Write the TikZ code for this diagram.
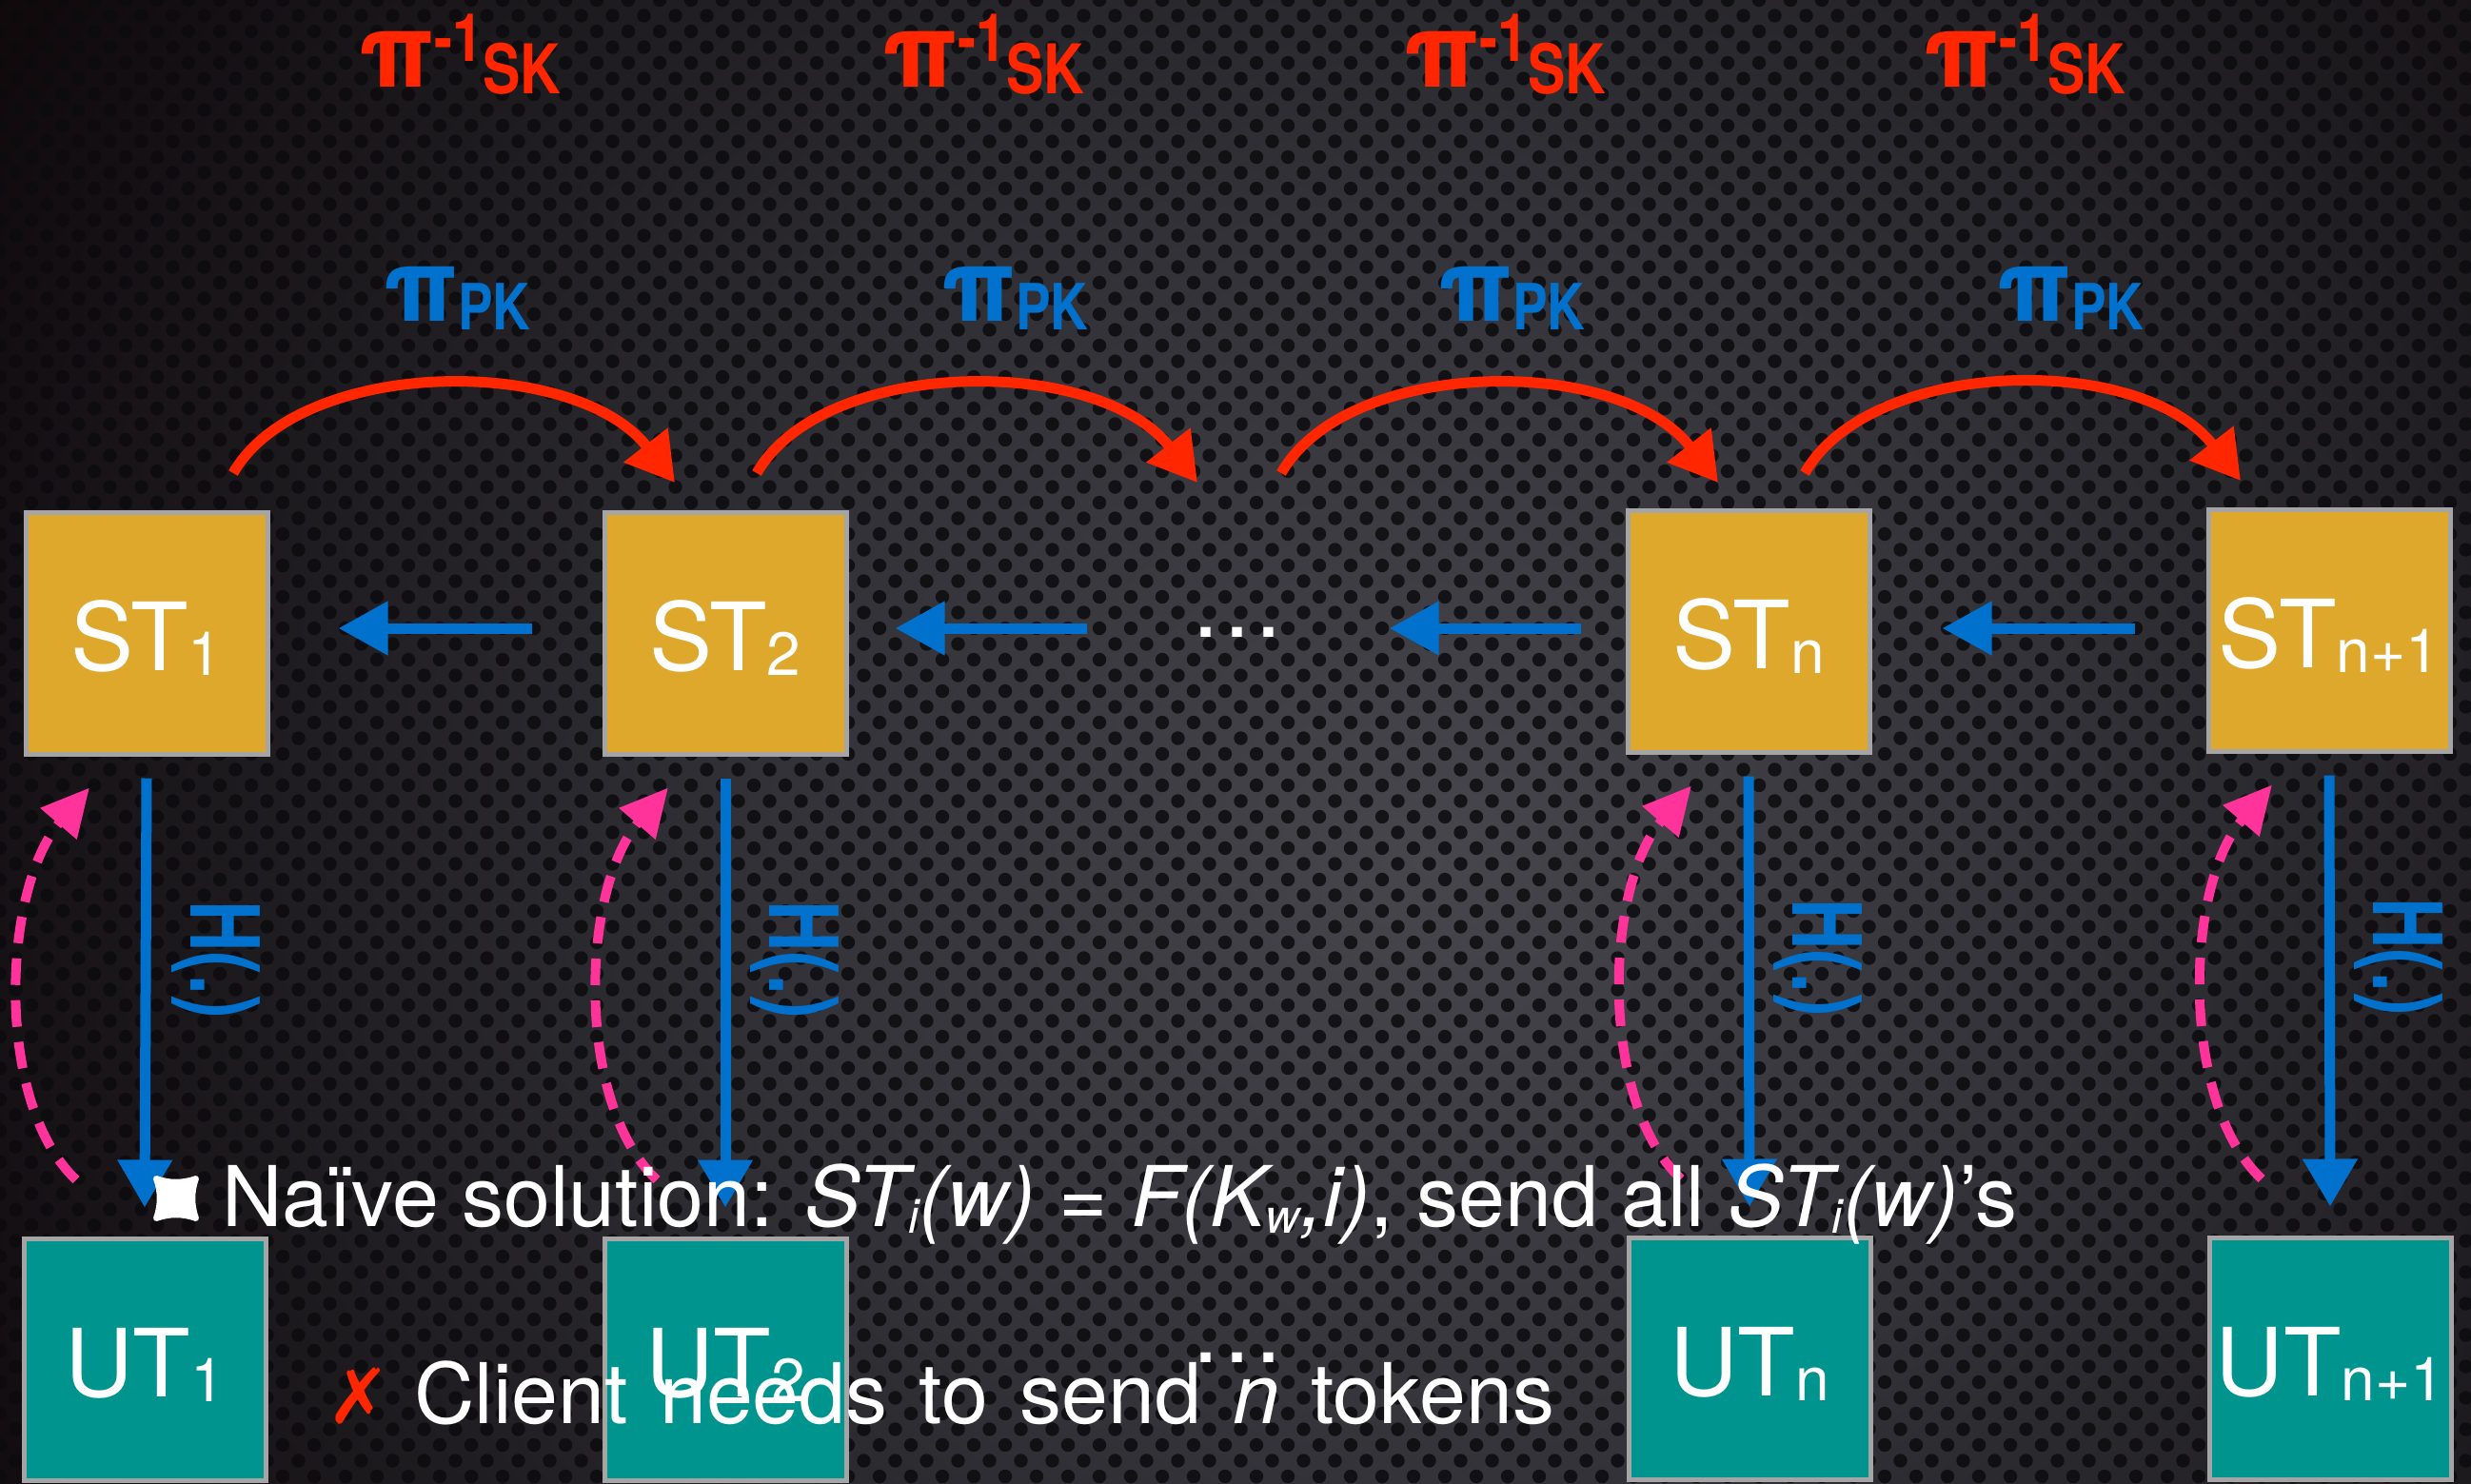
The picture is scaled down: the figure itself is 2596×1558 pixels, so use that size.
\documentclass[tikz,border=0pt]{standalone}
\usepackage{fontspec}
\setmainfont{TeX Gyre Heros}
\newfontfamily\tagfont{TeX Gyre Heros}[FakeStretch=0.74]
\newfontfamily\permfont{TeX Gyre Heros}[FakeStretch=0.82]
\newfontfamily\symfont{DejaVu Sans}
\usetikzlibrary{arrows.meta,calc}

\definecolor{bgdark}{RGB}{16,10,13}
\definecolor{bgouter}{RGB}{28,25,29}
\definecolor{bgmid}{RGB}{50,50,56}
\definecolor{bglight}{RGB}{70,70,76}
\definecolor{holec}{RGB}{12,11,14}
\definecolor{stgold}{RGB}{222,168,45}
\definecolor{utteal}{RGB}{0,148,143}
\definecolor{boxgrey}{RGB}{165,165,165}
\definecolor{hblue}{RGB}{0,114,206}
\definecolor{pred}{RGB}{255,38,0}
\definecolor{lpink}{RGB}{255,51,153}

% the path's radius corresponds to 25bp of the shading
\pgfdeclareradialshading{backglow}{\pgfpoint{0bp}{0bp}}{%
  color(0bp)=(bglight); color(10bp)=(bgmid); color(19bp)=(bgouter); color(25bp)=(bgdark); color(50bp)=(bgdark)}

% lowered, smaller index inside the token boxes and in the running text
\newcommand\boxsub[1]{\raisebox{-5pt}{\fontsize{64}{64}\selectfont #1}}
\newcommand\txtsub[1]{\raisebox{-7pt}{\fontsize{50}{50}\selectfont #1}}
% permutation labels
\newcommand\pisk{{\bfseries\fontsize{108}{108}\selectfont π}{\permfont\bfseries\raisebox{27pt}{\fontsize{70}{70}\selectfont -1}\raisebox{-7pt}{\fontsize{72}{72}\selectfont SK}}}
\newcommand\pipk{{\bfseries\fontsize{106}{106}\selectfont π}{\permfont\bfseries\raisebox{-9pt}{\fontsize{67}{67}\selectfont PK}}}

\tikzset{
  tokbox/.style={draw=boxgrey, line width=5pt, minimum width=254pt, minimum height=254pt,
    inner sep=0pt, text=white, text height=78pt, text depth=0pt,
    font=\fontsize{99}{99}\selectfont},
  stbox/.style={tokbox, fill=stgold},
  utbox/.style={tokbox, fill=utteal},
  backarr/.style={draw=hblue, line width=11pt, -{Triangle[length=52pt,width=54pt]}},
  hasharr/.style={draw=hblue, line width=11pt, -{Triangle[length=50pt,width=55pt]}},
  permarr/.style={draw=pred, line width=11pt, -{Triangle[length=50pt,width=56pt]}},
  looparr/.style={draw=lpink, line width=10pt, dash pattern=on 28pt off 16pt,
    -{Triangle[length=50pt,width=48pt]}},
  hlabel/.style={rotate=-90, inner sep=0pt, text=hblue,
    font=\tagfont\bfseries\fontsize{100}{100}\selectfont},
  sklabel/.style={anchor=base, inner sep=0pt, text=pred},
  pklabel/.style={anchor=base, inner sep=0pt, text=hblue},
  dotsnode/.style={anchor=base, inner sep=0pt, text=white, font=\fontsize{99}{99}\selectfont},
  bullettext/.style={anchor=base west, inner sep=0pt, text=white, font=\fontsize{88}{88}\selectfont}
}

\begin{document}
\begin{tikzpicture}[x=1pt,y=-1pt]
\useasboundingbox (0,0) rectangle (2596,1558);

% perforated dark backdrop, lit from the middle
\fill[bgdark] (0,0) rectangle (2596,1558);
\begin{scope}
  \clip (0,0) rectangle (2596,1558);
  \shade[shading=backglow] (1500,900) circle (1700);
  \foreach \r in {0,...,95}{
    \pgfmathsetmacro\rowx{mod(\r,2)*16.5}
    \fill[holec, opacity=0.85]
      \foreach \c in {0,...,79}{
        ({\c*33+\rowx},{\r*16.5}) circle (7.2)
      };
  }
\end{scope}

% search tokens
\node[stbox] (st1)  at (154,665)  {ST\boxsub{1}};
\node[stbox] (st2)  at (762,665)  {ST\boxsub{2}};
\node[stbox] (stn)  at (1837,663) {ST\boxsub{n}};
\node[stbox] (stn1) at (2447,662) {ST\boxsub{n+1}};
\node[dotsnode] (dots1) at (1300,669) {…};

% update tokens
\node[utbox] (ut1)  at (152,1428)  {UT\boxsub{1}};
\node[utbox] (ut2)  at (762,1428)  {UT\boxsub{2}};
\node[utbox] (utn)  at (1838,1427) {UT\boxsub{n}};
\node[utbox] (utn1) at (2448,1427) {UT\boxsub{n+1}};
\node[dotsnode] (dots2) at (1300,1431) {…};

% backward chain with the public key
\draw[backarr] ($(st2.west)+(-74,-5)$) -- ($(st1.east)+(72,-5)$);
\draw[backarr] ($(dots1.west |- st2.east)+(-108,-5)$) -- ($(st2.east)+(49,-5)$);
\draw[backarr] ($(stn.west)+(-47,-3)$) -- ($(dots1.east |- stn.west)+(110,-3)$);
\draw[backarr] ($(stn1.west)+(-75,-2)$) -- ($(stn.east)+(74,-3)$);

% forward chain with the secret key
\coordinate (r1a) at (245,497);  \coordinate (r1b) at (709,507);
\coordinate (r2a) at (795,497);  \coordinate (r2b) at (1258,507);
\coordinate (r3a) at (1346,497); \coordinate (r3b) at (1805,507);
\coordinate (r4a) at (1896,497); \coordinate (r4b) at (2354,505);
\foreach \k in {1,2,3,4}{
  \draw[permarr] (r\k a) .. controls ($(r\k a)+(70,-122)$) and ($(r\k b)+(-105,-135)$) .. (r\k b);
}

\node[sklabel] (sk1) at (483,91)  {\pisk};
\node[sklabel] (sk2) at (1033,91) {\pisk};
\node[sklabel] (sk3) at (1581,91) {\pisk};
\node[sklabel] (sk4) at (2127,91) {\pisk};

\node[pklabel] (pk1) at (480,337)  {\pipk};
\node[pklabel] (pk2) at (1066,337) {\pipk};
\node[pklabel] (pk3) at (1588,337) {\pipk};
\node[pklabel] (pk4) at (2175,337) {\pipk};

% hashing down to the update tokens, and the client's way back up
\foreach \s/\u in {st1/ut1, st2/ut2, stn/utn, stn1/utn1}{
  \draw[hasharr] ($(\s.south)+(0,23)$) -- ($(\u.north)+(0,-30)$);
  \node[hlabel] at ($(\s.center)+(73,343)$) {H(.)};
  \draw[looparr] ($(\u.north)+(-72,-59)$)
    .. controls ($(\u.north)+(-158,-140)$) and ($(\s.south)+(-152,140)$)
    .. ($(\s.south)+(-60,33)$);
}

% bullet points
\fill[white, draw=white, line width=6pt, line join=round]
  (164,1238) .. controls (178,1243) and (192,1243) .. (206,1238)
  .. controls (201,1252) and (201,1266) .. (206,1280)
  .. controls (192,1275) and (178,1275) .. (164,1280)
  .. controls (169,1266) and (169,1252) .. cycle;
\node[bullettext] (naive) at (233,1288)
  {Naïve solution: \textit{ST\txtsub{i}(w)} = \textit{F(K\txtsub{w},i)}, send all \textit{ST\txtsub{i}(w)}’s};

\node[anchor=base west, inner sep=0pt, text=pred, font=\symfont\fontsize{80}{80}\selectfont] (cross) at (343,1495) {✗};
\node[bullettext] (client) at (435,1495) {\spaceskip=33pt\relax Client needs to send \textit{n} tokens};
\end{tikzpicture}
\end{document}
